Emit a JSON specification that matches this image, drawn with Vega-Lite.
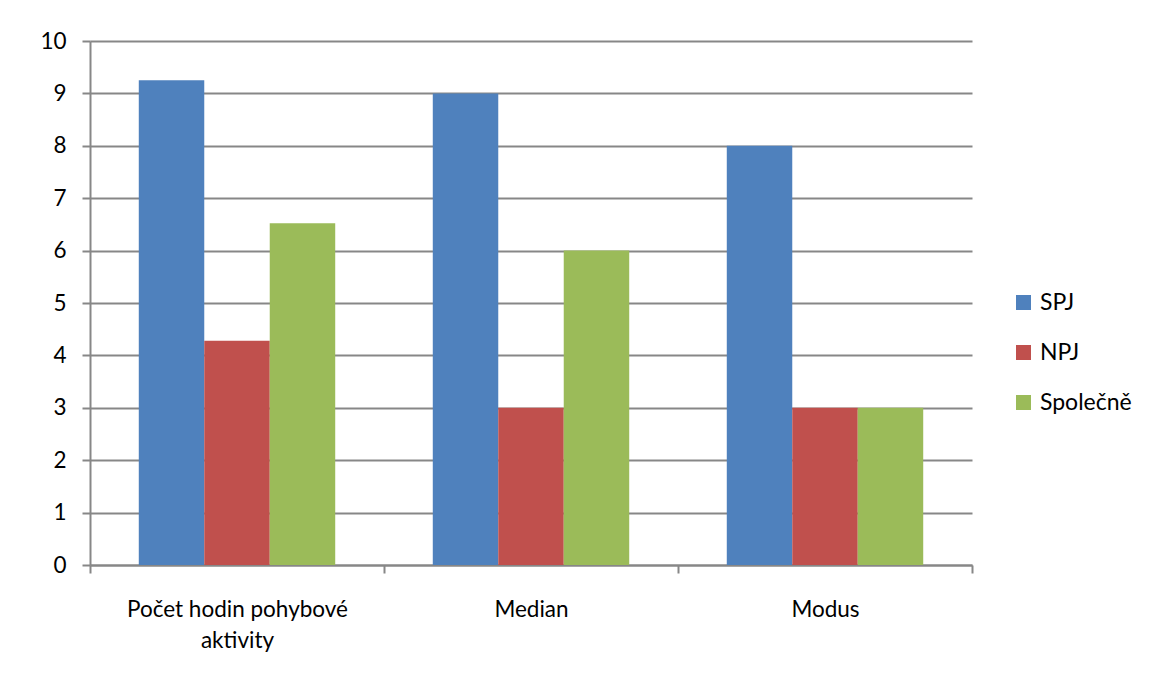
{
  "$schema": "https://vega.github.io/schema/vega-lite/v6.json",
  "width": 882,
  "height": 524,
  "autosize": {"type": "none"},
  "padding": {"left": 90, "top": 41, "right": 178, "bottom": 112},
  "background": "white",
  "data": {
    "values": [
      {"kategorie": "Počet hodin pohybové aktivity", "skupina": "SPJ", "hodnota": 9.25},
      {"kategorie": "Počet hodin pohybové aktivity", "skupina": "NPJ", "hodnota": 4.28},
      {"kategorie": "Počet hodin pohybové aktivity", "skupina": "Společně", "hodnota": 6.52},
      {"kategorie": "Median", "skupina": "SPJ", "hodnota": 9},
      {"kategorie": "Median", "skupina": "NPJ", "hodnota": 3},
      {"kategorie": "Median", "skupina": "Společně", "hodnota": 6},
      {"kategorie": "Modus", "skupina": "SPJ", "hodnota": 8},
      {"kategorie": "Modus", "skupina": "NPJ", "hodnota": 3},
      {"kategorie": "Modus", "skupina": "Společně", "hodnota": 3}
    ]
  },
  "mark": {"type": "bar"},
  "encoding": {
    "x": {
      "field": "kategorie",
      "type": "nominal",
      "sort": null,
      "scale": {"paddingInner": 0, "paddingOuter": 0},
      "axis": {
        "title": null,
        "labelAngle": 0,
        "labelFont": "Lato",
        "labelFontSize": 22.5,
        "labelColor": "#000000",
        "labelPadding": 25,
        "labelLineHeight": 31,
        "labelLimit": 0,
        "labelExpr": "datum.label == 'Počet hodin pohybové aktivity' ? ['Počet hodin pohybové', 'aktivity'] : datum.label",
        "tickBand": "extent",
        "tickSize": 8,
        "tickColor": "#878787",
        "tickWidth": 2,
        "domainColor": "#878787",
        "domainWidth": 2,
        "grid": false
      }
    },
    "xOffset": {"field": "skupina", "type": "nominal", "sort": ["SPJ", "NPJ", "Společně"], "scale": {"paddingInner": 0, "paddingOuter": 0.745}},
    "y": {
      "field": "hodnota",
      "type": "quantitative",
      "scale": {"domain": [0, 10], "nice": false},
      "axis": {
        "title": null,
        "values": [0, 1, 2, 3, 4, 5, 6, 7, 8, 9, 10],
        "labelFont": "Lato",
        "labelFontSize": 22.5,
        "labelColor": "#000000",
        "labelPadding": 16,
        "tickSize": 8,
        "tickColor": "#878787",
        "tickWidth": 2,
        "domainColor": "#878787",
        "domainWidth": 2,
        "grid": true,
        "gridColor": "#878787",
        "gridWidth": 2
      }
    },
    "color": {
      "field": "skupina",
      "type": "nominal",
      "sort": ["SPJ", "NPJ", "Společně"],
      "scale": {"domain": ["SPJ", "NPJ", "Společně"], "range": ["#4F81BD", "#C0504D", "#9BBB59"]},
      "legend": {
        "title": null,
        "orient": "none",
        "legendX": 922,
        "legendY": 250,
        "symbolType": "square",
        "symbolSize": 225,
        "symbolStrokeWidth": 0,
        "labelFont": "Lato",
        "labelFontSize": 23,
        "labelColor": "#000000",
        "labelOffset": 5,
        "rowPadding": 26
      }
    }
  },
  "config": {"view": {"stroke": null}}
}
